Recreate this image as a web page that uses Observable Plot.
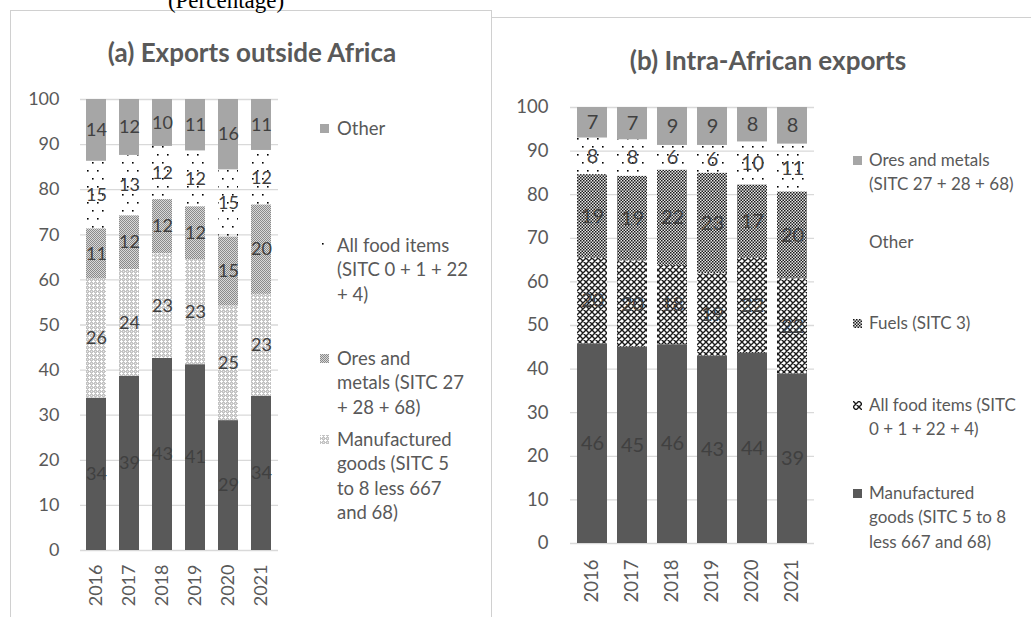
<!DOCTYPE html>
<html>
<head>
<meta charset="utf-8">
<script src="https://cdn.jsdelivr.net/npm/d3@7"></script>
<script src="https://cdn.jsdelivr.net/npm/@observablehq/plot@0.6"></script>
<style>
  html, body { margin: 0; padding: 0; background: #fff; }
  #root { position: relative; width: 1031px; height: 617px; overflow: hidden; background: #fff; font-family: Lato, "Open Sans", sans-serif; }
  .abs { position: absolute; }
  .title { font-weight: bold; font-size: 26px; color: #595959; text-align: center; line-height: 30px; white-space: nowrap; }
  .leg { position: absolute; color: #595959; line-height: 24.5px; white-space: pre-line; }
  .sw { position: absolute; }
</style>
</head>
<body>
<svg width="0" height="0" style="position:absolute">
  <defs>
    <pattern id="pLight" width="4" height="4" patternUnits="userSpaceOnUse">
      <rect width="4" height="4" fill="#c4c4c4"/>
      <rect x="1" y="0" width="1" height="1" fill="#fff"/>
      <rect x="0" y="1" width="3" height="1" fill="#fff"/>
      <rect x="1" y="2" width="1" height="1" fill="#fff"/>
      <rect x="3" y="3" width="1" height="1" fill="#e8e8e8"/>
    </pattern>
    <pattern id="pMed" width="2" height="2" patternUnits="userSpaceOnUse">
      <rect width="2" height="2" fill="#d8d8d8"/>
      <rect x="0" y="0" width="1" height="1" fill="#8a8a8a"/>
      <rect x="1" y="1" width="1" height="1" fill="#8a8a8a"/>
    </pattern>
    <pattern id="pDots" width="10" height="16" patternUnits="userSpaceOnUse">
      <rect x="2" y="2" width="1.6" height="1.6" fill="#000"/>
      <rect x="7" y="10" width="1.6" height="1.6" fill="#000"/>
    </pattern>
    <pattern id="pFuel" width="3" height="3" patternUnits="userSpaceOnUse">
      <rect width="3" height="3" fill="#e6e6e6"/>
      <rect x="0" y="0" width="1.5" height="1.5" fill="#1a1a1a"/>
      <rect x="1.5" y="1.5" width="1.5" height="1.5" fill="#1a1a1a"/>
    </pattern>
    <pattern id="pFood" width="6" height="6" patternUnits="userSpaceOnUse">
      <rect width="6" height="6" fill="#fff"/>
      <path d="M0,0 L6,6 M6,0 L0,6 M-1,5 L1,7 M5,-1 L7,1 M-1,1 L1,-1 M5,7 L7,5" stroke="#1a1a1a" stroke-width="1.4"/>
    </pattern>
  </defs>
</svg>
<div id="root"></div>
<script>
// ---------- data ----------
const years = ["2016", "2017", "2018", "2019", "2020", "2021"];
const yTicks = [0, 10, 20, 30, 40, 50, 60, 70, 80, 90, 100];

// Panel (a): Exports outside Africa (bottom to top)
const seriesA = ["Fuels (SITC 3)", "Manufactured goods (SITC 5 to 8 less 667 and 68)", "Ores and metals (SITC 27 + 28 + 68)", "All food items (SITC 0 + 1 + 22 + 4)", "Other"];
const fuelsA  = [33.8, 38.6, 42.6, 41.2, 28.8, 34.2];
const manufA  = [26.4, 23.7, 23.2, 23.3, 25.4, 22.6];
const oresA   = [11.1, 11.9, 12.0, 11.7, 15.3, 19.8];
const foodA   = [15.0, 13.4, 11.8, 12.4, 14.9, 12.1];
const otherA  = [13.7, 12.4, 10.4, 11.4, 15.6, 11.3];
const valuesA = [fuelsA, manufA, oresA, foodA, otherA];

// Panel (b): Intra-African exports (bottom to top)
const seriesB = ["Manufactured goods (SITC 5 to 8 less 667 and 68)", "All food items (SITC 0 + 1 + 22 + 4)", "Fuels (SITC 3)", "Other", "Ores and metals (SITC 27 + 28 + 68)"];
const manufB  = [45.8, 45.0, 45.6, 43.0, 43.6, 38.9];
const foodB   = [19.6, 19.8, 18.2, 18.9, 21.8, 21.8];
const fuelsB  = [19.2, 19.4, 21.8, 23.0, 16.8, 19.9];
const otherB  = [8.4, 8.4, 5.7, 6.4, 9.9, 11.0];
const oresB   = [7.0, 7.4, 8.7, 8.7, 7.9, 8.4];
const valuesB = [manufB, foodB, fuelsB, otherB, oresB];

// Texts
const pageTitle = "(Percentage)";
const titleA = "(a) Exports outside Africa";
const titleB = "(b) Intra-African exports";
const legendA = ["Other", "All food items\n(SITC 0 + 1 + 22\n+ 4)", "Ores and\nmetals (SITC 27\n+ 28 + 68)", "Manufactured\ngoods (SITC 5\nto 8 less 667\nand 68)"];
const legendAKeys = ["Other", "All food items (SITC 0 + 1 + 22 + 4)", "Ores and metals (SITC 27 + 28 + 68)", "Manufactured goods (SITC 5 to 8 less 667 and 68)"];
const legendB = ["Ores and metals\n(SITC 27 + 28 + 68)", "Other", "Fuels (SITC 3)", "All food items (SITC\n0 + 1 + 22 + 4)", "Manufactured\ngoods (SITC 5 to 8\nless 667 and 68)"];
const legendBKeys = ["Ores and metals (SITC 27 + 28 + 68)", "Other", "Fuels (SITC 3)", "All food items (SITC 0 + 1 + 22 + 4)", "Manufactured goods (SITC 5 to 8 less 667 and 68)"];

// ---------- styles ----------
const fillsA = ["#595959", "url(#pLight)", "url(#pMed)", "url(#pDots)", "#a6a6a6"];
const fillsB = ["#595959", "url(#pFood)", "url(#pFuel)", "url(#pDots)", "#a6a6a6"];

function table(series, arrays) {
  return series.flatMap((s, i) => years.map((y, j) => ({year: y, series: s, value: arrays[i][j]})));
}
const dataA = table(seriesA, valuesA);
const dataB = table(seriesB, valuesB);

const root = document.getElementById("root");
function addDiv(cls, text, css) {
  const d = document.createElement("div");
  d.className = cls;
  d.textContent = text;
  Object.assign(d.style, css);
  root.appendChild(d);
  return d;
}

// frames
addDiv("abs", "", {left: "10px", top: "10px", width: "482px", height: "620px", border: "1px solid #d0d0d0", boxSizing: "border-box"});
addDiv("abs", "", {left: "492px", top: "17px", width: "560px", height: "620px", borderTop: "1px solid #d0d0d0", boxSizing: "border-box"});

addDiv("abs", pageTitle, {left: "126px", width: "200px", top: "-11px", textAlign: "center", fontFamily: "'Liberation Serif', serif", fontSize: "23px", lineHeight: "23px", color: "#000"});

function chart(data, series, fills, o) {
  return Plot.plot({
    width: o.width, height: 617,
    marginLeft: o.ml, marginRight: o.mr, marginTop: o.mt, marginBottom: o.mb,
    style: {fontFamily: "Lato, 'Open Sans', sans-serif", fontSize: o.tickFont + "px", color: "#595959", background: "transparent", overflow: "visible"},
    x: {domain: years, paddingInner: o.pi, paddingOuter: o.po, label: null, tickSize: 0, tickPadding: o.xPad, tickRotate: -90},
    y: {domain: [0, 100], ticks: yTicks, label: null, tickSize: 0, tickPadding: o.yPad},
    color: {domain: series, range: fills},
    marks: [
      Plot.ruleY(yTicks, {stroke: "#d9d9d9", strokeWidth: 1.3}),
      Plot.barY(data, Plot.stackY({x: "year", y: "value", fill: "series", z: "series", order: series})),
      Plot.text(data, Plot.stackY({x: "year", y: "value", z: "series", order: series, text: d => String(Math.round(d.value)), fill: "#404040", fontSize: o.labelFont}))
    ]
  });
}

const svgA = chart(dataA, seriesA, fillsA, {width: 300, ml: 80, mr: 22, mt: 99, mb: 67, pi: 0.39, po: 0.18, xPad: 14, yPad: 21, tickFont: 18, labelFont: 18});
svgA.style.position = "absolute"; svgA.style.left = "0px"; svgA.style.top = "0px";
root.appendChild(svgA);

const svgB = chart(dataB, seriesB, fillsB, {width: 340, ml: 80, mr: 16, mt: 107, mb: 74, pi: 0.24, po: 0.12, xPad: 16, yPad: 22, tickFont: 18.5, labelFont: 20});
svgB.style.position = "absolute"; svgB.style.left = "490px"; svgB.style.top = "0px";
root.appendChild(svgB);

// titles
addDiv("abs title", titleA, {left: "52px", width: "400px", top: (52 - 15) + "px"});
addDiv("abs title", titleB, {left: "568px", width: "400px", top: (60 - 15) + "px"});

// legends
function legend(labels, keys, series, fills, swX, txtX, centers, hidden, fontSize) {
  labels.forEach((lab, i) => {
    const cy = centers[i];
    const fill = fills[series.indexOf(keys[i])];
    if (!hidden.includes(keys[i])) {
      const ns = "http://www.w3.org/2000/svg";
      const s = document.createElementNS(ns, "svg");
      s.setAttribute("width", 9); s.setAttribute("height", 9);
      s.setAttribute("class", "sw");
      s.style.left = swX + "px"; s.style.top = (cy - 4) + "px";
      const r = document.createElementNS(ns, "rect");
      r.setAttribute("width", 9); r.setAttribute("height", 9); r.setAttribute("fill", fill);
      s.appendChild(r);
      root.appendChild(s);
    }
    addDiv("leg", lab, {left: txtX + "px", top: (cy - 12.25) + "px", fontSize: fontSize + "px"});
  });
}
legend(legendA, legendAKeys, seriesA, fillsA, 320, 337, [128, 245, 358, 439], [], 18.5);
legend(legendB, legendBKeys, seriesB, fillsB, 853, 869, [160, 242, 323, 405, 493], ["Other"], 17);
</script>
</body>
</html>
